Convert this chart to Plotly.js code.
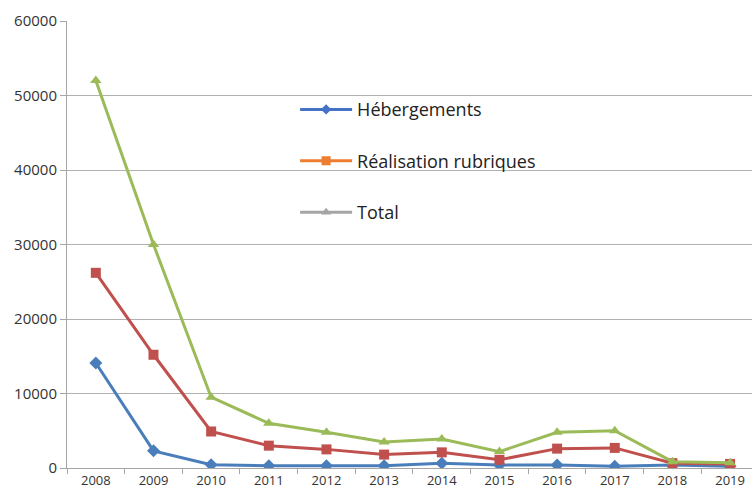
<!DOCTYPE html>
<html>
<head>
<meta charset="utf-8">
<script src="https://cdn.plot.ly/plotly-3.0.1.min.js"></script>
<style>html,body{margin:0;padding:0;background:#fff;}#chart{width:752px;height:495px;}</style>
</head>
<body>
<div id="chart"></div>
<script>
const years = ['2008','2009','2010','2011','2012','2013','2014','2015','2016','2017','2018','2019'];
const hebergements = [14100, 2300, 450, 300, 300, 300, 650, 400, 400, 250, 400, 250];
const realisation = [26200, 15200, 4900, 3000, 2500, 1800, 2100, 1100, 2600, 2700, 650, 550];
const total = [52000, 30000, 9500, 6000, 4800, 3500, 3900, 2200, 4800, 5000, 850, 700];
const seriesNames = ['Hébergements', 'Réalisation rubriques', 'Total'];

const lineColors = ['#4a7ebb', '#c0504d', '#9bbb59'];
const legendColors = ['#4472c4', '#ed7d31', '#a5a5a5'];
const symbols = ['diamond', 'square', 'triangle-up'];
const seriesData = [hebergements, realisation, total];

const traces = [];
seriesData.forEach((vals, i) => {
  traces.push({
    type: 'scatter', mode: 'lines+markers', x: years, y: vals,
    line: {color: lineColors[i], width: 3},
    marker: {symbol: symbols[i], size: 10, color: lineColors[i]},
    showlegend: false, hoverinfo: 'x+y'
  });
});
seriesData.forEach((vals, i) => {
  traces.push({
    type: 'scatter', mode: 'lines+markers', x: [years[0]], y: [null],
    name: seriesNames[i], legendgroup: 'g' + i,
    line: {color: legendColors[i], width: 3},
    marker: {symbol: symbols[i], size: i === 0 ? 8 : 9, color: legendColors[i]},
    showlegend: true
  });
});

const layout = {
  width: 752, height: 495,
  margin: {l: 67, r: 0, t: 21, b: 27},
  paper_bgcolor: '#ffffff', plot_bgcolor: '#ffffff',
  font: {family: 'Open Sans, sans-serif', size: 13, color: '#333333'},
  xaxis: {
    type: 'category', range: [-0.5, 11.38],
    showgrid: false, showline: true, linecolor: '#a6a6a6', linewidth: 1,
    ticks: 'outside', tickson: 'boundaries', ticklen: 5, tickcolor: '#a6a6a6',
    tickfont: {size: 13, color: '#333333'}, zeroline: false, fixedrange: true
  },
  yaxis: {
    range: [0, 60000], dtick: 10000, tickformat: 'd',
    showgrid: true, gridcolor: '#b0b0b0', gridwidth: 1,
    showline: true, linecolor: '#a6a6a6', linewidth: 1,
    ticks: 'outside', ticklen: 6, tickcolor: '#a6a6a6',
    tickfont: {size: 15, color: '#333333'}, zeroline: false, fixedrange: true
  },
  shapes: [{
    type: 'rect', xref: 'x domain', yref: 'y domain',
    x0: 0.333, x1: 0.737, y0: 0.519, y1: 0.830,
    fillcolor: '#ffffff', line: {width: 0}, layer: 'below'
  }],
  legend: {
    x: 0.333, y: 0.843, xanchor: 'left', yanchor: 'top',
    bgcolor: 'rgba(0,0,0,0)', borderwidth: 0,
    font: {size: 18, color: '#222222'},
    tracegroupgap: 25, itemwidth: 52
  }
};

Plotly.newPlot('chart', traces, layout, {displayModeBar: false, staticPlot: true});
</script>
</body>
</html>
